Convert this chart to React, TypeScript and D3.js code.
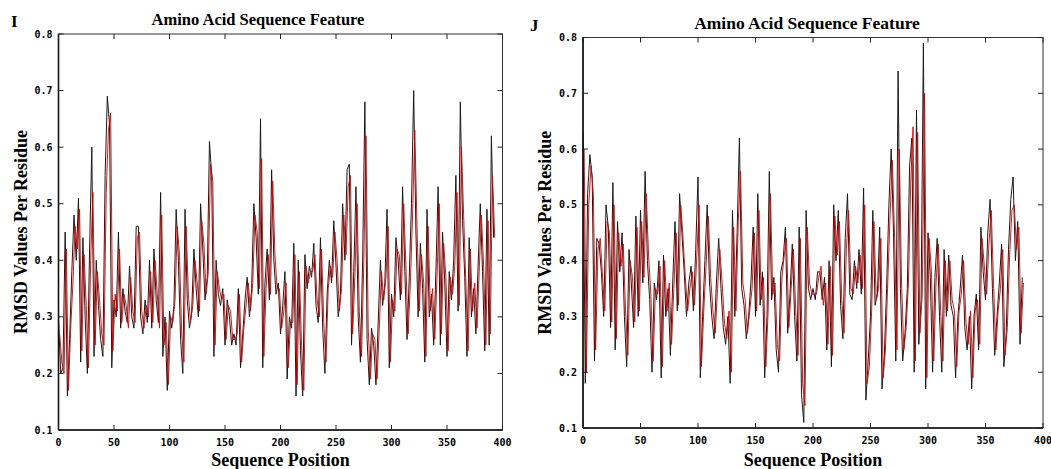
import React from 'react';
import * as d3 from 'd3';

// black trace sampled at even residues, red trace at odd residues
const blackI = [
  0.30, 0.20, 0.21, 0.45, 0.16, 0.26, 0.38, 0.48, 0.40, 0.51, 0.22, 0.44, 0.30, 0.20, 0.42, 0.60, 0.23, 0.40, 0.32, 0.26,
  0.23, 0.55, 0.69, 0.64, 0.21, 0.33, 0.30, 0.45, 0.28, 0.35, 0.31, 0.29, 0.39, 0.30, 0.28, 0.46, 0.46, 0.30, 0.27, 0.33,
  0.29, 0.40, 0.28, 0.42, 0.33, 0.29, 0.52, 0.23, 0.30, 0.17, 0.31, 0.28, 0.32, 0.49, 0.40, 0.26, 0.20, 0.49, 0.33, 0.28,
  0.31, 0.42, 0.35, 0.30, 0.50, 0.42, 0.33, 0.37, 0.61, 0.55, 0.23, 0.40, 0.34, 0.32, 0.35, 0.25, 0.33, 0.30, 0.25, 0.27,
  0.25, 0.35, 0.21, 0.27, 0.33, 0.37, 0.30, 0.35, 0.50, 0.44, 0.34, 0.65, 0.21, 0.36, 0.42, 0.33, 0.56, 0.40, 0.34, 0.36,
  0.27, 0.32, 0.38, 0.19, 0.30, 0.28, 0.43, 0.16, 0.40, 0.24, 0.16, 0.41, 0.35, 0.39, 0.37, 0.43, 0.32, 0.29, 0.44, 0.28,
  0.20, 0.34, 0.40, 0.36, 0.47, 0.39, 0.30, 0.34, 0.50, 0.40, 0.56, 0.57, 0.25, 0.38, 0.53, 0.30, 0.22, 0.40, 0.68, 0.26,
  0.18, 0.28, 0.25, 0.18, 0.29, 0.40, 0.32, 0.36, 0.49, 0.21, 0.34, 0.30, 0.44, 0.40, 0.33, 0.53, 0.38, 0.26, 0.37, 0.50,
  0.70, 0.45, 0.30, 0.43, 0.35, 0.22, 0.49, 0.30, 0.34, 0.25, 0.38, 0.53, 0.25, 0.45, 0.36, 0.23, 0.38, 0.33, 0.40, 0.55,
  0.31, 0.68, 0.47, 0.37, 0.23, 0.44, 0.30, 0.35, 0.27, 0.39, 0.50, 0.38, 0.24, 0.49, 0.25, 0.62, 0.44,
];

const redI = [
  0.27, 0.22, 0.20, 0.42, 0.17, 0.28, 0.36, 0.46, 0.42, 0.49, 0.24, 0.41, 0.32, 0.21, 0.40, 0.52, 0.25, 0.38, 0.33, 0.27,
  0.25, 0.52, 0.63, 0.66, 0.24, 0.34, 0.31, 0.42, 0.29, 0.34, 0.32, 0.28, 0.37, 0.31, 0.29, 0.44, 0.45, 0.31, 0.28, 0.32,
  0.30, 0.38, 0.29, 0.40, 0.34, 0.28, 0.48, 0.25, 0.29, 0.18, 0.30, 0.29, 0.33, 0.46, 0.41, 0.27, 0.22, 0.46, 0.34, 0.29,
  0.32, 0.40, 0.36, 0.31, 0.47, 0.43, 0.34, 0.38, 0.57, 0.54, 0.25, 0.38, 0.35, 0.33, 0.34, 0.26, 0.32, 0.31, 0.26, 0.26,
  0.27, 0.34, 0.22, 0.28, 0.32, 0.36, 0.31, 0.36, 0.48, 0.45, 0.35, 0.58, 0.23, 0.35, 0.41, 0.34, 0.54, 0.41, 0.35, 0.35,
  0.28, 0.31, 0.36, 0.21, 0.29, 0.29, 0.41, 0.18, 0.38, 0.25, 0.17, 0.39, 0.36, 0.38, 0.38, 0.41, 0.33, 0.30, 0.42, 0.29,
  0.22, 0.35, 0.39, 0.37, 0.45, 0.40, 0.31, 0.35, 0.48, 0.41, 0.53, 0.55, 0.27, 0.37, 0.50, 0.31, 0.23, 0.39, 0.62, 0.28,
  0.19, 0.27, 0.26, 0.19, 0.28, 0.38, 0.33, 0.37, 0.46, 0.22, 0.33, 0.31, 0.42, 0.41, 0.34, 0.50, 0.39, 0.27, 0.36, 0.48,
  0.63, 0.46, 0.31, 0.41, 0.36, 0.23, 0.46, 0.31, 0.35, 0.26, 0.37, 0.50, 0.27, 0.43, 0.37, 0.24, 0.37, 0.34, 0.39, 0.52,
  0.32, 0.60, 0.48, 0.36, 0.24, 0.42, 0.31, 0.36, 0.28, 0.38, 0.48, 0.39, 0.25, 0.47, 0.27, 0.55, 0.44,
];

const blackJ = [
  0.63, 0.18, 0.52, 0.59, 0.55, 0.22, 0.44, 0.43, 0.38, 0.30, 0.50, 0.46, 0.28, 0.54, 0.24, 0.47, 0.38, 0.45, 0.30, 0.21,
  0.42, 0.36, 0.28, 0.48, 0.30, 0.49, 0.36, 0.56, 0.40, 0.33, 0.20, 0.36, 0.33, 0.40, 0.19, 0.41, 0.30, 0.35, 0.23, 0.36,
  0.47, 0.31, 0.52, 0.45, 0.38, 0.30, 0.36, 0.39, 0.31, 0.42, 0.55, 0.19, 0.30, 0.40, 0.50, 0.36, 0.30, 0.26, 0.36, 0.44,
  0.35, 0.28, 0.25, 0.30, 0.18, 0.49, 0.30, 0.45, 0.62, 0.35, 0.32, 0.26, 0.30, 0.36, 0.46, 0.30, 0.52, 0.32, 0.38, 0.19,
  0.30, 0.56, 0.33, 0.37, 0.24, 0.20, 0.38, 0.40, 0.46, 0.27, 0.34, 0.43, 0.30, 0.22, 0.46, 0.16, 0.11, 0.49, 0.35, 0.33,
  0.35, 0.33, 0.38, 0.38, 0.33, 0.37, 0.24, 0.40, 0.21, 0.50, 0.40, 0.49, 0.32, 0.26, 0.44, 0.52, 0.34, 0.33, 0.40, 0.35,
  0.42, 0.34, 0.53, 0.15, 0.22, 0.30, 0.49, 0.32, 0.34, 0.46, 0.17, 0.23, 0.35, 0.50, 0.60, 0.45, 0.22, 0.74, 0.35, 0.22,
  0.27, 0.35, 0.57, 0.62, 0.20, 0.67, 0.25, 0.33, 0.79, 0.17, 0.45, 0.37, 0.20, 0.37, 0.44, 0.30, 0.20, 0.42, 0.30, 0.41,
  0.32, 0.30, 0.19, 0.30, 0.35, 0.41, 0.28, 0.24, 0.30, 0.17, 0.30, 0.34, 0.24, 0.46, 0.38, 0.33, 0.45, 0.51, 0.35, 0.23,
  0.30, 0.36, 0.43, 0.21, 0.27, 0.42, 0.51, 0.55, 0.40, 0.47, 0.25, 0.37,
];

const redJ = [
  0.60, 0.20, 0.50, 0.57, 0.52, 0.24, 0.42, 0.44, 0.37, 0.31, 0.47, 0.45, 0.29, 0.50, 0.26, 0.45, 0.39, 0.43, 0.31, 0.23,
  0.40, 0.37, 0.29, 0.46, 0.31, 0.47, 0.37, 0.52, 0.41, 0.34, 0.22, 0.35, 0.34, 0.39, 0.21, 0.40, 0.31, 0.36, 0.25, 0.35,
  0.45, 0.32, 0.50, 0.44, 0.37, 0.31, 0.35, 0.38, 0.32, 0.41, 0.50, 0.21, 0.31, 0.39, 0.48, 0.37, 0.31, 0.27, 0.35, 0.42,
  0.36, 0.29, 0.26, 0.31, 0.20, 0.46, 0.31, 0.47, 0.56, 0.36, 0.33, 0.27, 0.31, 0.35, 0.45, 0.31, 0.49, 0.33, 0.37, 0.21,
  0.31, 0.52, 0.34, 0.36, 0.25, 0.22, 0.37, 0.41, 0.44, 0.28, 0.35, 0.42, 0.31, 0.23, 0.44, 0.18, 0.14, 0.46, 0.36, 0.34,
  0.34, 0.34, 0.37, 0.39, 0.32, 0.36, 0.25, 0.39, 0.23, 0.48, 0.41, 0.47, 0.33, 0.27, 0.42, 0.49, 0.35, 0.34, 0.39, 0.36,
  0.41, 0.35, 0.50, 0.18, 0.21, 0.31, 0.47, 0.33, 0.35, 0.44, 0.19, 0.24, 0.36, 0.48, 0.58, 0.44, 0.24, 0.60, 0.36, 0.24,
  0.28, 0.36, 0.54, 0.64, 0.22, 0.63, 0.27, 0.34, 0.70, 0.19, 0.44, 0.38, 0.22, 0.36, 0.43, 0.31, 0.22, 0.40, 0.31, 0.40,
  0.33, 0.31, 0.21, 0.31, 0.34, 0.40, 0.29, 0.25, 0.31, 0.19, 0.31, 0.33, 0.25, 0.44, 0.39, 0.34, 0.43, 0.49, 0.36, 0.24,
  0.31, 0.35, 0.42, 0.23, 0.28, 0.41, 0.49, 0.50, 0.42, 0.46, 0.27, 0.36,
];

const xTicks = [0, 50, 100, 150, 200, 250, 300, 350, 400];
const yTicks = [0.1, 0.2, 0.3, 0.4, 0.5, 0.6, 0.7, 0.8];
const title = 'Amino Acid Sequence Feature';
const xTitle = 'Sequence Position';
const yTitle = 'RMSD Values Per Residue';

const serif = '"Liberation Serif", "Times New Roman", serif';
const mono = '"DejaVu Sans Mono", monospace';

type PanelProps = {
  letter: string;
  black: number[];
  red: number[];
  left: number;
  right: number;
  top: number;
  bottom: number;
  titleSize: number;
  titleX: number;
  letterX: number;
  letterY: number;
  yTitleX: number;
};

function Panel(p: PanelProps) {
  const x = d3.scaleLinear().domain([0, 400]).range([p.left, p.right]);
  const y = d3.scaleLinear().domain([0.1, 0.8]).range([p.bottom, p.top]);
  const lineEven = d3.line<number>().x((_, i) => x(i * 2)).y(d => y(d));
  const lineOdd = d3.line<number>().x((_, i) => x(i * 2 + 1)).y(d => y(d));
  const fmt = d3.format('.1f');
  const tl = 5;
  const cx = (p.left + p.right) / 2;
  const cy = (p.top + p.bottom) / 2;

  return (
    <g>
      <text x={p.letterX} y={p.letterY} fontFamily={serif} fontWeight="bold" fontSize={17}>{p.letter}</text>
      <text x={p.titleX} y={p.top - 9} textAnchor="middle" fontFamily={serif} fontWeight="bold" fontSize={p.titleSize}>{title}</text>

      <path d={lineEven(p.black) ?? ''} fill="none" stroke="#1a1a1a" strokeWidth={1} />
      <path d={lineOdd(p.red) ?? ''} fill="none" stroke="#d40000" strokeWidth={1} strokeOpacity={0.9} />

      <rect x={p.left} y={p.top} width={p.right - p.left} height={p.bottom - p.top} fill="none" stroke="#333" strokeWidth={1} />
      <line x1={p.left} x2={p.left} y1={p.top} y2={p.bottom} stroke="#111" strokeWidth={1.6} />
      <line x1={p.left} x2={p.right} y1={p.bottom} y2={p.bottom} stroke="#111" strokeWidth={1.4} />

      {xTicks.map(t => (
        <g key={'x' + t}>
          <line x1={x(t)} x2={x(t)} y1={p.bottom} y2={p.bottom - tl} stroke="#222" />
          <line x1={x(t)} x2={x(t)} y1={p.top} y2={p.top + tl} stroke="#222" />
          <text x={x(t)} y={p.bottom + 16} textAnchor="middle" fontFamily={mono} fontWeight="bold" fontSize={10}>{t}</text>
        </g>
      ))}
      {yTicks.map(t => (
        <g key={'y' + t}>
          <line x1={p.left} x2={p.left + tl} y1={y(t)} y2={y(t)} stroke="#222" />
          <line x1={p.right} x2={p.right - tl} y1={y(t)} y2={y(t)} stroke="#222" />
          <text x={p.left - 6} y={y(t) + 3.5} textAnchor="end" fontFamily={mono} fontWeight="bold" fontSize={10}>{fmt(t)}</text>
        </g>
      ))}

      <text x={cx} y={466} textAnchor="middle" fontFamily={serif} fontWeight="bold" fontSize={18}>{xTitle}</text>
      <text transform={`translate(${p.yTitleX},${cy}) rotate(-90)`} textAnchor="middle" fontFamily={serif} fontWeight="bold" fontSize={18}>{yTitle}</text>
    </g>
  );
}

export default function App() {
  return (
    <svg width={1051} height={469} style={{ position: 'absolute', left: 0, top: 0, background: '#fff' }}>
      <rect width={1051} height={469} fill="#fff" />
      <Panel letter="I" black={blackI} red={redI} left={58.5} right={502.5} top={34} bottom={430}
        titleSize={16.5} titleX={258} letterX={11} letterY={27} yTitleX={27} />
      <Panel letter="J" black={blackJ} red={redJ} left={583} right={1043} top={37.5} bottom={428}
        titleSize={17.5} titleX={807} letterX={530} letterY={31} yTitleX={551} />
    </svg>
  );
}
